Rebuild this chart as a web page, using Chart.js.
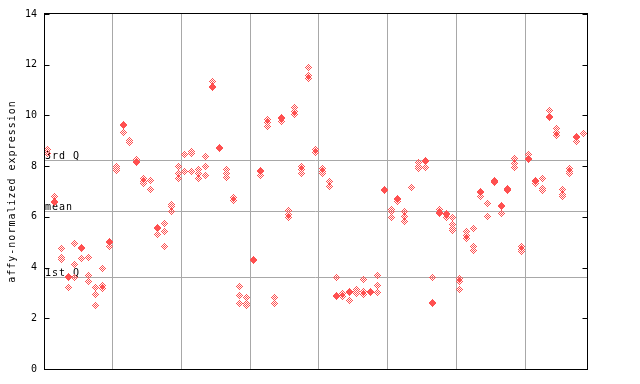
<!DOCTYPE html>
<html>
<head>
<meta charset="utf-8">
<script src="https://cdn.jsdelivr.net/npm/chart.js@4/dist/chart.umd.min.js"></script>
<style>
  html, body { margin: 0; padding: 0; background: #fff; }
  #wrap { width: 640px; height: 384px; }
</style>
</head>
<body>
<div id="wrap"><canvas id="exprChart" width="640" height="384"></canvas></div>
<script>
// one inner list per sample column: the replicate values drawn as diamonds at that x
const samples = [
  [8.65, 8.5], [6.8, 6.6, 6.55], [4.76, 4.4, 4.3], [3.64, 3.6, 3.22], [4.96, 4.13, 3.62],
  [4.8, 4.76, 4.37], [4.4, 3.7, 3.44], [3.22, 2.95, 2.51], [3.97, 3.3, 3.16], [5.02, 4.98, 4.82],
  [8.0, 7.9, 7.82], [9.65, 9.6, 9.33], [9.0, 8.95, 8.92], [8.25, 8.2, 8.15], [7.52, 7.4, 7.33],
  [7.45, 7.42, 7.08], [5.6, 5.55, 5.3], [5.74, 5.43, 4.82], [6.5, 6.4, 6.2], [7.98, 7.72, 7.52],
  [8.44, 7.78], [8.58, 8.5, 7.78], [7.88, 7.7, 7.52], [8.4, 8.0, 7.65], [11.32, 11.15, 11.1],
  [8.75, 8.71], [7.85, 7.72, 7.56], [6.75, 6.65], [3.25, 2.9, 2.59], [2.83, 2.6, 2.5],
  [4.32, 4.28], [7.84, 7.8, 7.65], [9.85, 9.72, 9.58], [2.83, 2.6], [9.93, 9.88, 9.75],
  [6.27, 6.08, 5.98], [10.33, 10.15, 10.02], [7.98, 7.85, 7.72], [11.9, 11.57, 11.47], [8.64, 8.55],
  [7.91, 7.8, 7.72], [7.38, 7.2, 7.18], [3.59, 2.9, 2.86], [2.97, 2.85], [3.07, 3.03, 2.72],
  [3.14, 3.05, 2.96], [3.51, 3.05, 2.92], [3.05, 3.0], [3.67, 3.31, 3.02], [7.08, 7.04],
  [6.3, 6.2, 5.97], [6.73, 6.68, 6.6], [6.2, 6.03, 5.8], [7.17], [8.14, 8.0, 7.9],
  [8.22, 8.18, 7.95], [3.62, 2.64, 2.6], [6.3, 6.16, 6.12], [6.12, 6.08, 5.98], [5.98, 5.68, 5.56, 5.48],
  [3.55, 3.44, 3.15], [5.41, 5.28, 5.13], [5.55, 4.85, 4.67], [7.0, 6.96, 6.82], [6.53, 6.03],
  [7.45, 7.39, 7.35], [6.46, 6.42, 6.14], [7.12, 7.08, 7.04], [8.31, 8.11, 7.95], [4.82, 4.73, 4.63],
  [8.47, 8.3, 8.26], [7.45, 7.39, 7.33], [7.52, 7.12, 7.03], [10.21, 9.97, 9.93], [9.49, 9.32, 9.2],
  [7.06, 6.9, 6.8], [7.91, 7.8, 7.72], [9.18, 9.14, 8.96], [9.29]
];
const groupBreaks = [9.5, 19.5, 29.5, 39.5, 49.5, 59.5, 69.5];
const yTicks = [0, 2, 4, 6, 8, 10, 12, 14];
const refLabels = ['3rd Q', 'mean', '1st Q'];
const refValues = [8.24, 6.23, 3.62];
const yTitle = 'affy-normalized expression';

const RED = '#ff5050';
const GRID = '#a8a8a8';
const FONT = '"DejaVu Sans Mono", monospace';

// dithered diamond stamp, 7x7
function diamondStamp() {
  const c = document.createElement('canvas');
  c.width = 7; c.height = 7;
  const g = c.getContext('2d');
  g.fillStyle = RED;
  for (let dy = -3; dy <= 3; dy++) {
    for (let dx = -3; dx <= 3; dx++) {
      if (Math.abs(dx) + Math.abs(dy) <= 3 && Math.abs(dx + dy) % 2 === 1) g.fillRect(dx + 3, dy + 3, 1, 1);
    }
  }
  return c;
}

const points = [];
samples.forEach((vals, i) => vals.forEach(v => points.push({ x: i, y: v })));

const decor = {
  id: 'decor',
  beforeDatasetsDraw(chart) {
    const { ctx, chartArea: a, scales: { y } } = chart;
    ctx.save();
    ctx.strokeStyle = GRID;
    ctx.lineWidth = 1;
    refValues.forEach(v => {
      const py = Math.round(y.getPixelForValue(v)) + 0.5;
      ctx.beginPath(); ctx.moveTo(a.left, py); ctx.lineTo(a.right, py); ctx.stroke();
    });
    ctx.fillStyle = '#000';
    ctx.font = '10px ' + FONT;
    ctx.letterSpacing = '1px';
    ctx.textAlign = 'left';
    ctx.textBaseline = 'alphabetic';
    refLabels.forEach((t, i) => {
      ctx.fillText(t, a.left + 1, Math.round(y.getPixelForValue(refValues[i])) - 1);
    });
    ctx.restore();
    ctx.imageSmoothingEnabled = false;
  },
  afterDatasetsDraw(chart) {
    const { ctx, chartArea: a, scales: { y } } = chart;
    ctx.imageSmoothingEnabled = true;
    ctx.save();
    ctx.strokeStyle = '#000';
    ctx.lineWidth = 1;
    const L = Math.round(a.left) + 0.5, R = Math.round(a.right) + 0.5;
    const T = Math.round(a.top) - 0.5, B = Math.round(a.bottom) + 0.5;
    ctx.strokeRect(L, T, R - L, B - T);
    ctx.beginPath();
    yTicks.forEach(v => {
      const py = Math.round(y.getPixelForValue(v)) + 0.5;
      ctx.moveTo(L, py); ctx.lineTo(L + 5, py);
      ctx.moveTo(R, py); ctx.lineTo(R - 5, py);
    });
    ctx.stroke();
    ctx.fillStyle = '#000';
    ctx.font = '10px ' + FONT;
    ctx.letterSpacing = '1px';
    ctx.textAlign = 'center';
    ctx.textBaseline = 'middle';
    ctx.translate(12, (a.top + a.bottom) / 2);
    ctx.rotate(-Math.PI / 2);
    ctx.fillText(yTitle, 0, 0);
    ctx.restore();
  }
};

new Chart(document.getElementById('exprChart'), {
  type: 'scatter',
  data: {
    datasets: [{
      data: points,
      pointStyle: diamondStamp(),
      pointRadius: 3.5,
      pointHoverRadius: 3.5,
    }]
  },
  options: {
    responsive: false,
    animation: false,
    devicePixelRatio: 1,
    layout: { padding: { top: 14, right: 53, bottom: 15, left: 0 } },
    plugins: { legend: { display: false }, tooltip: { enabled: false } },
    scales: {
      x: {
        type: 'linear',
        min: -0.5,
        max: 78.5,
        afterBuildTicks: s => { s.ticks = groupBreaks.map(v => ({ value: v })); },
        afterFit: s => { s.height = 0; },
        ticks: { display: false },
        grid: { color: GRID, drawTicks: false },
        border: { display: false },
      },
      y: {
        min: 0,
        max: 14,
        afterBuildTicks: s => { s.ticks = yTicks.map(v => ({ value: v })); },
        afterFit: s => { s.width = 44; },
        ticks: { color: '#000', font: { family: FONT, size: 10 }, padding: 7 },
        grid: { display: false, drawTicks: false },
        border: { display: false },
      },
    },
  },
  plugins: [decor],
});
</script>
</body>
</html>
